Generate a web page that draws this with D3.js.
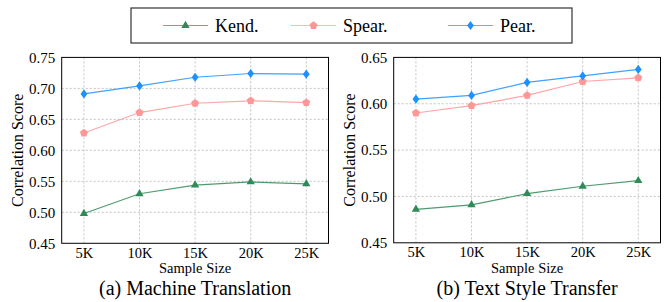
<!DOCTYPE html>
<html><head><meta charset="utf-8">
<script src="https://cdn.jsdelivr.net/npm/d3@7"></script>
<style>body{margin:0;background:#fff}svg{display:block}svg text{font-family:"Liberation Serif","Times New Roman",serif !important}</style>
</head><body>
<script>
const sampleSizes = ["5K","10K","15K","20K","25K"];
const seriesNames = ["Kend.","Spear.","Pear."];
const mtKend = [0.498,0.530,0.544,0.549,0.546];
const mtSpear = [0.628,0.661,0.676,0.680,0.677];
const mtPear = [0.691,0.704,0.718,0.724,0.723];
const tstKend = [0.486,0.491,0.503,0.511,0.517];
const tstSpear = [0.590,0.598,0.609,0.624,0.628];
const tstPear = [0.605,0.609,0.623,0.630,0.637];
const mtTicks = [0.45,0.50,0.55,0.60,0.65,0.70,0.75];
const tstTicks = [0.45,0.50,0.55,0.60,0.65];
const captions = ["(a) Machine Translation","(b) Text Style Transfer"];

const colors = {"Kend.":"#2e8b57","Spear.":"#ff9797","Pear.":"#1e90ff"};
const FONT = '"Liberation Serif","Times New Roman",serif';

const svg = d3.select("body").append("svg").attr("width",669).attr("height",302);

function pentagonPath(r){
  let p="";
  for(let i=0;i<5;i++){const a=-Math.PI/2+i*2*Math.PI/5;p+=(i?"L":"M")+(r*Math.cos(a)).toFixed(2)+","+(r*Math.sin(a)).toFixed(2);}
  return p+"Z";
}
function marker(g,name,x,y){
  let path;
  if(name==="Spear.") path=pentagonPath(4.2);
  else if(name==="Kend.") path=d3.symbol().type(d3.symbolTriangle).size(30)();
  else path="M0,-4.6L3.4,0L0,4.6L-3.4,0Z";
  g.append("path").attr("d",path).attr("transform",`translate(${x},${y})`).attr("fill",colors[name]);
}

function panel(x0,x1,y0,y1,data,ticks,caption,ylabX){
  const g = svg.append("g");
  const x = d3.scalePoint().domain(sampleSizes).range([x0,x1]).padding(0.4);
  const y = d3.scaleLinear().domain([ticks[0],ticks[ticks.length-1]]).range([y1,y0]);
  g.selectAll(".hg").data(ticks.slice(1,-1)).join("line")
    .attr("x1",x0).attr("x2",x1).attr("y1",d=>y(d)).attr("y2",d=>y(d))
    .attr("stroke","#b5b5b5").attr("stroke-width",0.8).attr("stroke-dasharray","2,2");
  g.selectAll(".vg").data(sampleSizes).join("line")
    .attr("x1",d=>x(d)).attr("x2",d=>x(d)).attr("y1",y0).attr("y2",y1)
    .attr("stroke","#b5b5b5").attr("stroke-width",0.8).attr("stroke-dasharray","2,2");
  const ya = g.append("g").attr("transform",`translate(${x0},0)`)
    .call(d3.axisLeft(y).tickValues(ticks).tickFormat(d3.format(".2f")).tickSize(0).tickPadding(6.5));
  ya.attr("font-family",FONT);
  ya.select(".domain").remove();
  ya.selectAll("text").style("font-size","15px").style("font-family",FONT).attr("fill","#000");
  const xa = g.append("g").attr("transform",`translate(0,${y1})`)
    .call(d3.axisBottom(x).tickSize(0).tickPadding(4));
  xa.attr("font-family",FONT);
  xa.select(".domain").remove();
  xa.selectAll("text").style("font-size","14.5px").style("font-family",FONT).attr("fill","#000");
  g.append("rect").attr("x",x0).attr("y",y0).attr("width",x1-x0).attr("height",y1-y0)
    .attr("fill","none").attr("stroke","#000").attr("stroke-width",1);
  data.forEach(s=>{
    const line = d3.line().x((d,i)=>x(sampleSizes[i])).y(d=>y(d));
    g.append("path").attr("d",line(s.values)).attr("fill","none")
      .attr("stroke",colors[s.name]).attr("stroke-width",1.2).attr("stroke-opacity",0.85);
    s.values.forEach((v,i)=>marker(g,s.name,x(sampleSizes[i]),y(v)));
  });
  g.append("text").attr("x",(x0+x1)/2).attr("y",273.4).attr("text-anchor","middle")
    .style("font-size","14.5px").style("font-family",FONT).text("Sample Size");
  g.append("text").attr("transform",`translate(${ylabX},${(y0+y1)/2}) rotate(-90)`)
    .attr("text-anchor","middle").attr("dy","0.35em").style("font-size","16px").style("font-family",FONT).text("Correlation Score");
  g.append("text").attr("x",(x0+x1)/2).attr("y",294.8).attr("text-anchor","middle")
    .style("font-size","20px").style("font-family",FONT).text(caption);
}

panel(61.7,328.5,57.4,243.3,[
  {name:"Kend.",values:mtKend},{name:"Spear.",values:mtSpear},{name:"Pear.",values:mtPear}],
  mtTicks,captions[0],17);
panel(393.7,660.5,57.4,242.8,[
  {name:"Kend.",values:tstKend},{name:"Spear.",values:tstSpear},{name:"Pear.",values:tstPear}],
  tstTicks,captions[1],349);

const lg = svg.append("g");
lg.append("rect").attr("x",131).attr("y",8).attr("width",441).attr("height",35)
  .attr("fill","#fff").attr("stroke","#333").attr("stroke-width",1.2);
const legX = [163,291,448];
seriesNames.forEach((n,i)=>{
  lg.append("line").attr("x1",legX[i]).attr("x2",legX[i]+45).attr("y1",25.5).attr("y2",25.5)
    .attr("stroke",colors[n]).attr("stroke-width",1.2).attr("stroke-opacity",0.7);
  marker(lg,n,legX[i]+22.5,25.5);
  lg.append("text").attr("x",legX[i]+52).attr("y",31.5).style("font-size","18px").style("font-family",FONT).text(n);
});
</script>
</body></html>
